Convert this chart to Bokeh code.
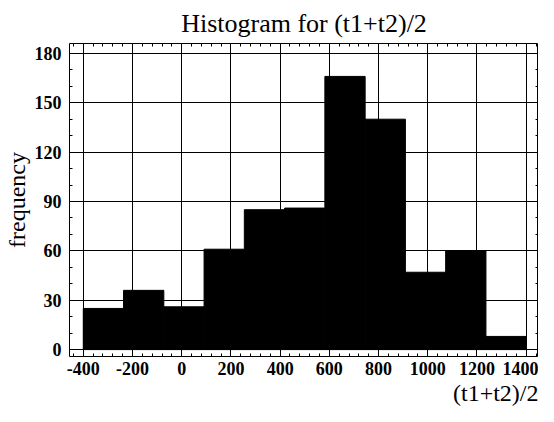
from bokeh.plotting import figure
from bokeh.models import LinearAxis, Range1d, FixedTicker, Title
from bokeh.embed import file_html
from bokeh.resources import INLINE

# Data
bin_edges = [-400, -236.4, -72.7, 90.9, 254.5, 418.2, 581.8, 745.5, 909.1, 1072.7, 1236.4, 1400]
counts = [25, 36, 26, 61, 85, 86, 166, 140, 47, 60, 8]
x_ticks = [-400, -200, 0, 200, 400, 600, 800, 1000, 1200, 1400]
x_tick_labels = ["-400", "-200", "0", "200", "400", "600", "800", "1000", "1200", "1400"]
y_ticks = [0, 30, 60, 90, 120, 150, 180]
x_minor = list(range(-440, 1441, 40))
y_minor = list(range(0, 181, 10))

FONT = "Liberation Serif"

p = figure(width=538, height=406, output_backend="svg", toolbar_location=None,
           x_range=Range1d(-456, 1450), y_range=Range1d(-4.2, 186),
           min_border_left=68, min_border_right=0, min_border_top=36, min_border_bottom=50,
           x_axis_location=None, y_axis_location=None)

p.title.text = "Histogram for (t1+t2)/2"
p.title.align = "center"
p.title.text_font = FONT
p.title.text_font_size = "26px"
p.title.text_font_style = "normal"
p.title.text_color = "black"
p.title.standoff = 12

p.outline_line_color = "black"
p.outline_line_width = 1
p.background_fill_color = "white"
p.border_fill_color = "white"

p.quad(left=bin_edges[:-1], right=bin_edges[1:], bottom=0, top=counts,
       fill_color="black", line_color="black")


def style_axis(ax, labels=True):
    ax.axis_line_color = None
    ax.major_tick_in = 6
    ax.major_tick_out = 0
    ax.minor_tick_in = 3
    ax.minor_tick_out = 0
    ax.major_tick_line_color = "black"
    ax.minor_tick_line_color = "black"
    ax.major_label_text_font = FONT
    ax.major_label_text_font_style = "bold"
    ax.major_label_text_font_size = "18px"
    ax.major_label_text_color = "black"
    ax.axis_label_text_font = FONT
    ax.axis_label_text_font_style = "normal"
    ax.axis_label_text_color = "black"
    if not labels:
        ax.major_label_text_font_size = "0px"
        ax.major_label_text_alpha = 0
        ax.major_label_standoff = 0


xt = FixedTicker(ticks=x_ticks, minor_ticks=x_minor)
yt = FixedTicker(ticks=y_ticks, minor_ticks=y_minor)

bx = LinearAxis(ticker=xt)
style_axis(bx)
bx.major_label_standoff = 5
bx.major_label_overrides = {t: s for t, s in zip(x_ticks, x_tick_labels)}

tx = LinearAxis(ticker=xt)
style_axis(tx, False)

ly = LinearAxis(ticker=yt)
style_axis(ly)
ly.major_label_standoff = 8
ly.axis_label = "frequency"
ly.axis_label_text_font_size = "24px"
ly.axis_label_standoff = 2

ry = LinearAxis(ticker=yt)
style_axis(ry, False)

p.add_layout(bx, "below")
p.add_layout(tx, "above")
p.add_layout(ly, "left")
p.add_layout(ry, "right")

xlabel = Title(text="(t1+t2)/2", align="right", text_font=FONT, text_font_size="24px",
               text_font_style="normal", text_color="black", standoff=0, offset=0)
p.add_layout(xlabel, "below")

p.xgrid.ticker = xt
p.ygrid.ticker = yt
for g in (p.xgrid, p.ygrid):
    g.grid_line_color = "black"
    g.grid_line_width = 1
    g.grid_line_alpha = 1.0

open("out.html", "w").write(file_html(p, INLINE))
